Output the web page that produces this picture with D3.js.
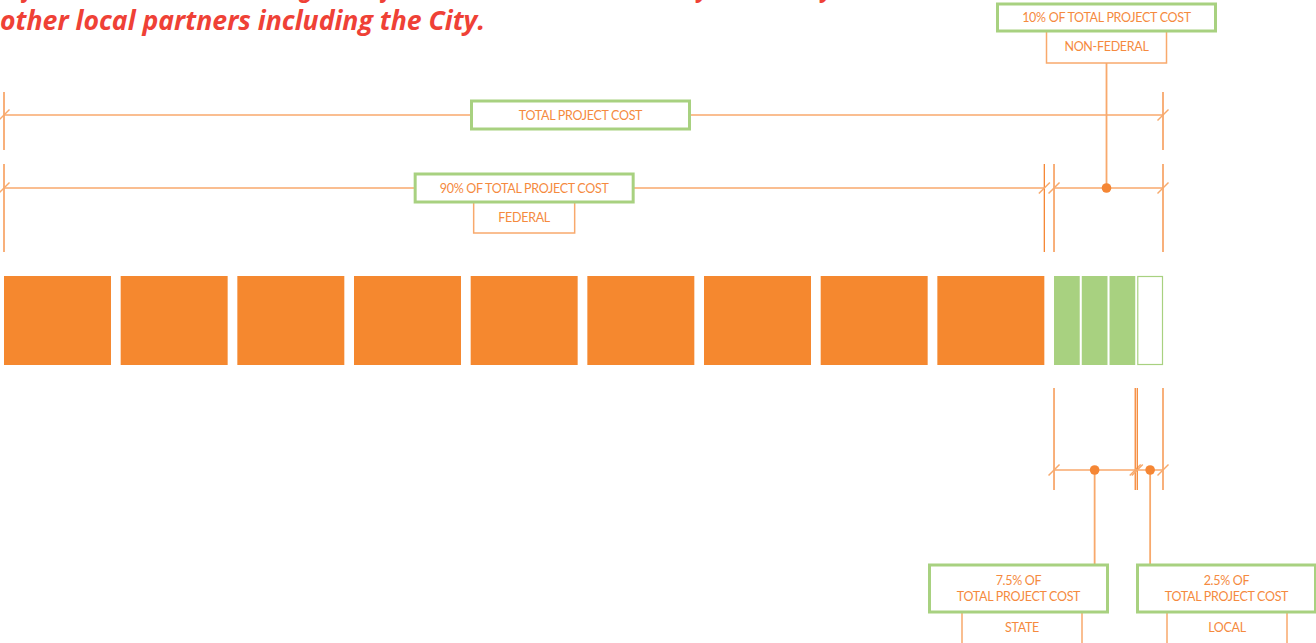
<!DOCTYPE html>
<html>
<head>
<meta charset="utf-8">
<script src="https://cdn.jsdelivr.net/npm/d3@7"></script>
<style>
  html, body { margin: 0; padding: 0; background: #fff; overflow: hidden; }
  svg { display: block; }
  .lbl { font-family: Lato, "Open Sans", sans-serif; font-size: 12.5px; letter-spacing: -0.3px; fill: #f58a3e; }
</style>
</head>
<body>
<svg width="1316" height="643"></svg>
<script>
// Data
var headingLines = [
    "is federal, and the remaining 10% of the costs must be covered by the County and",
    "other local partners including the City."
];
var federalBlocks = [10, 10, 10, 10, 10, 10, 10, 10, 10];   // percent each
var nonFederalParts = [2.5, 2.5, 2.5, 2.5];                  // percent each
var partSource = ['STATE', 'STATE', 'STATE', 'LOCAL'];
var shareLabels = ['TOTAL PROJECT COST', '90% OF TOTAL PROJECT COST', '10% OF TOTAL PROJECT COST',
                   ['7.5% OF', 'TOTAL PROJECT COST'], ['2.5% OF', 'TOTAL PROJECT COST']];
var sourceLabels = ['FEDERAL', 'NON-FEDERAL', 'STATE', 'LOCAL'];

// Colors
var ORANGE = '#f5882f', GREEN = '#a8d180', LINE = '#f58634', LIGHT = '#f8a96c', RED = '#ef4136';

window.onload = function() {
    var svg = d3.select('svg');

    // heading (cut off by the top edge)
    var head = svg.append('g');
    headingLines.forEach(function(t, n) {
	head.append('text')
	    .attr('x', 0)
	    .attr('y', -3 + 33*n)
	    .attr('textLength', n == 0 ? 880 : 485)
	    .attr('lengthAdjust', 'spacingAndGlyphs')
	    .style('font-family', '"Open Sans", sans-serif')
	    .style('font-weight', 700)
	    .style('font-style', 'italic')
	    .style('font-size', '26px')
	    .style('fill', RED)
	    .text(t);
    });

    // scales: one band per 10% block, then quarters inside the last block
    var blocks = federalBlocks.concat([d3.sum(nonFederalParts)]);
    var x = d3.scaleBand()
	.domain(blocks.map(function(d, i) { return i; }))
	.range([4, 1161])
	.paddingInner(0.083);
    var last = blocks.length - 1;
    var q = d3.scaleBand()
	.domain(nonFederalParts.map(function(d, i) { return i; }))
	.range([x(last), x(last) + x.bandwidth() + 2])
	.paddingInner(0.0734);
    var y = d3.scaleLinear().domain([0, 1]).range([276, 365]);

    // bars
    svg.append('g').selectAll('rect')
	.data(federalBlocks)
	.enter().append('rect')
	.attr('x', function(d, i) { return x(i); })
	.attr('y', y(0))
	.attr('width', x.bandwidth())
	.attr('height', y(1) - y(0))
	.style('fill', ORANGE);
    svg.append('g').selectAll('rect')
	.data(nonFederalParts)
	.enter().append('rect')
	.attr('x', function(d, i) { return partSource[i] == 'LOCAL' ? q(i) + 0.5 : q(i); })
	.attr('y', function(d, i) { return partSource[i] == 'LOCAL' ? y(0) + 0.5 : y(0); })
	.attr('width', function(d, i) { return partSource[i] == 'LOCAL' ? q.bandwidth() - 1 : q.bandwidth(); })
	.attr('height', function(d, i) { return partSource[i] == 'LOCAL' ? y(1) - y(0) - 1 : y(1) - y(0); })
	.style('fill', function(d, i) { return partSource[i] == 'LOCAL' ? '#fff' : GREEN; })
	.style('stroke', function(d, i) { return partSource[i] == 'LOCAL' ? GREEN : 'none'; })
	.style('stroke-width', 1.2);

    // span ends
    var xTotal = [x(0), x(last) + x.bandwidth() + 2];
    var xFed = [x(0), x(last - 1) + x.bandwidth()];
    var xNon = [x(last), xTotal[1]];
    var xState = [q(0), q(2) + q.bandwidth()];
    var xLocal = [q(3), xTotal[1]];

    function vline(g, xv, y0, y1) {
	g.append('line').attr('x1', xv).attr('x2', xv).attr('y1', y0).attr('y2', y1)
	    .style('stroke', LINE).style('stroke-width', 1.3);
    }
    function slash(g, xv, yv) {
	g.append('line').attr('x1', xv - 5.5).attr('x2', xv + 5.5).attr('y1', yv + 5.5).attr('y2', yv - 5.5)
	    .style('stroke', LIGHT).style('stroke-width', 1.5);
    }
    function hline(g, x0, x1, yv) {
	g.append('line').attr('x1', x0).attr('x2', x1).attr('y1', yv).attr('y2', yv)
	    .style('stroke', LIGHT).style('stroke-width', 1.5);
    }
    // a dimension: verticals at both ends, line across, slashes
    function dim(span, yv, y0, y1) {
	var g = svg.append('g');
	vline(g, span[0], y0, y1);
	vline(g, span[1], y0, y1);
	hline(g, span[0], span[1], yv);
	slash(g, span[0], yv);
	slash(g, span[1], yv);
	return g;
    }
    function greenBox(cx, top, w, h, lines) {
	var g = svg.append('g');
	g.append('rect').attr('x', cx - w/2).attr('y', top).attr('width', w).attr('height', h)
	    .style('fill', '#fff').style('stroke', GREEN).style('stroke-width', 3);
	lines.forEach(function(t, n) {
	    g.append('text').attr('class', 'lbl')
		.attr('x', cx)
		.attr('y', top + h/2 + 4.5 + (n - (lines.length - 1)/2)*16)
		.attr('text-anchor', 'middle')
		.text(t);
	});
	return g;
    }
    function subBox(cx, top, w, h, t) {
	var g = svg.append('g');
	g.append('rect').attr('x', cx - w/2).attr('y', top).attr('width', w).attr('height', h)
	    .style('fill', '#fff').style('stroke', LIGHT).style('stroke-width', 1.5);
	g.append('text').attr('class', 'lbl')
	    .attr('x', cx).attr('y', top + 20)
	    .attr('text-anchor', 'middle')
	    .text(t);
    }
    function dot(g, cx, cy) {
	g.append('circle').attr('cx', cx).attr('cy', cy).attr('r', 4.8).style('fill', LINE);
    }
    function mid(s) { return (s[0] + s[1]) / 2; }

    // total row
    dim(xTotal, 115, 92, 150);
    greenBox(mid(xTotal) - 3, 101, 218, 28, [shareLabels[0]]);

    // federal / non-federal row
    dim(xFed, 188, 164, 252);
    subBox(mid(xFed), 202, 101, 31, sourceLabels[0]);
    greenBox(mid(xFed), 174, 218, 28, [shareLabels[1]]);

    var gNon = dim(xNon, 188, 164, 252);
    var cNon = mid(xNon) - 2;
    gNon.append('line').attr('x1', cNon).attr('x2', cNon).attr('y1', 188).attr('y2', 63)
	.style('stroke', LIGHT).style('stroke-width', 1.8);
    dot(gNon, cNon, 188);
    subBox(cNon, 31, 120, 32, sourceLabels[1]);
    greenBox(cNon, 4, 218, 27, [shareLabels[2]]);

    // state / local row
    var gState = dim(xState, 470, 388, 490);
    var gLocal = dim(xLocal, 470, 388, 490);
    var cState = mid(xState), cLocal = mid(xLocal);
    [[gState, cState], [gLocal, cLocal]].forEach(function(p) {
	p[0].append('line').attr('x1', p[1]).attr('x2', p[1]).attr('y1', 470).attr('y2', 564)
	    .style('stroke', LIGHT).style('stroke-width', 1.8);
	dot(p[0], p[1], 470);
    });
    subBox(1022, 612, 120, 60, sourceLabels[2]);
    subBox(1227, 612, 120, 60, sourceLabels[3]);
    greenBox(1018.5, 565, 178, 47, shareLabels[3]);
    greenBox(1226.5, 565, 178, 47, shareLabels[4]);
};
</script>
</body>
</html>
